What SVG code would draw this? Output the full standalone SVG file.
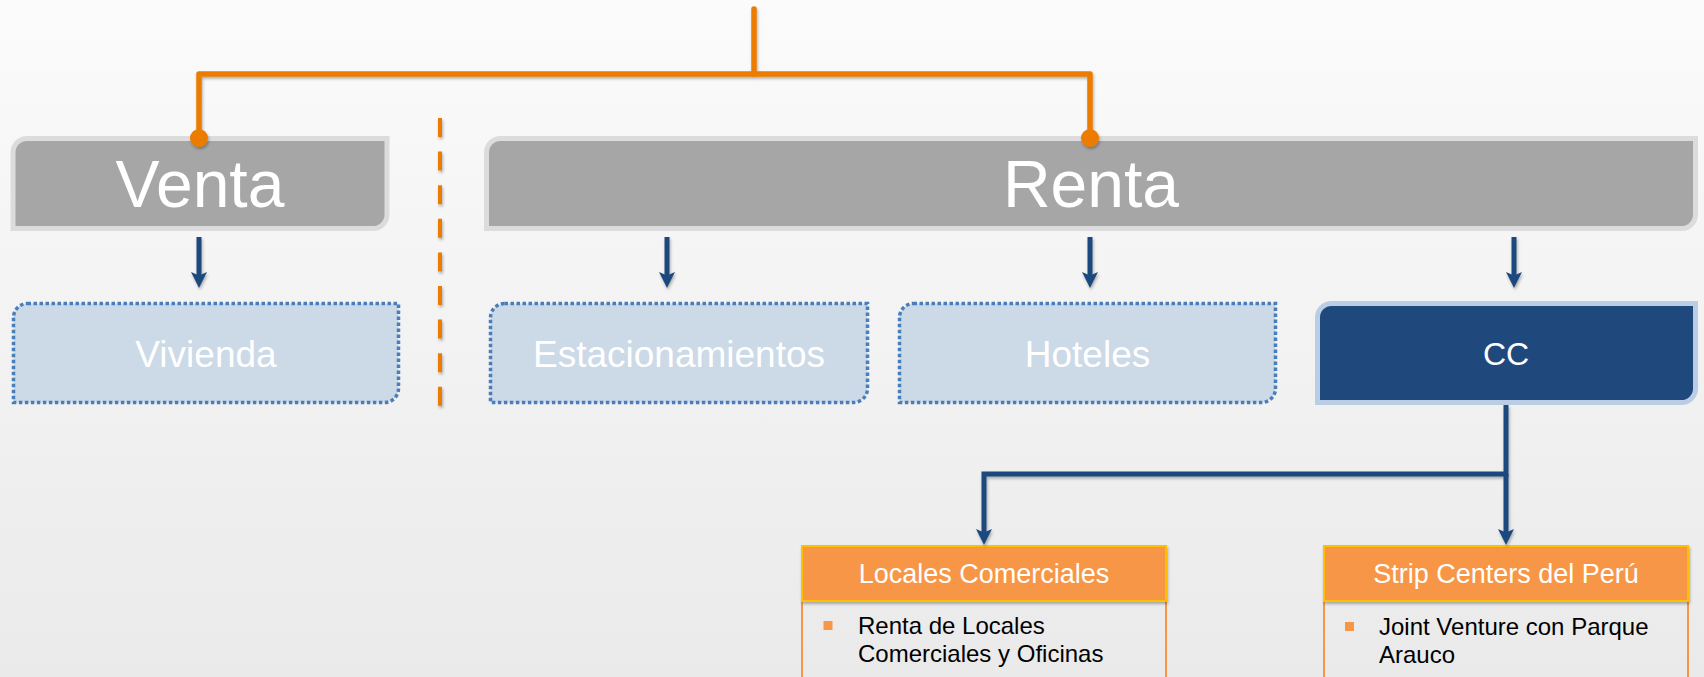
<svg xmlns="http://www.w3.org/2000/svg" width="1704" height="677" viewBox="0 0 1704 677">
  <defs>
    <linearGradient id="bg" x1="0" y1="0" x2="0" y2="1">
      <stop offset="0" stop-color="#fbfbfb"/>
      <stop offset="1" stop-color="#eaeaea"/>
    </linearGradient>
    <filter id="sh" x="-20%" y="-20%" width="140%" height="140%">
      <feDropShadow dx="1" dy="2" stdDeviation="1.5" flood-color="#000" flood-opacity="0.3"/>
    </filter>
    <marker id="arr" viewBox="0 0 16 16" refX="10" refY="8" markerWidth="16" markerHeight="16" markerUnits="userSpaceOnUse" orient="auto">
      <path d="M0,0 L16,8 L0,16 L3.5,8 Z" fill="#1f497d"/>
    </marker>
    <style>
      .big { fill:#a6a6a6; stroke:#dcdcdc; stroke-width:5; }
      .bigt { font-family:"Liberation Sans", Arial, sans-serif; font-size:66px; fill:#fff; text-anchor:middle; }
      .dot { fill:#ccd9e7; stroke:#4a7ebb; stroke-width:3.5; stroke-dasharray:3.5 2.5; }
      .mid { font-family:"Liberation Sans", Arial, sans-serif; font-size:37px; fill:#fff; text-anchor:middle; }
      .cc { fill:#1f497d; stroke:#b9cde5; stroke-width:5; }
      .ccT { font-family:"Liberation Sans", Arial, sans-serif; font-size:32px; fill:#fff; text-anchor:middle; }
      .hdr { fill:#f79646; stroke:#ffc000; stroke-width:2; }
      .hdrT { font-family:"Liberation Sans", Arial, sans-serif; font-size:27px; fill:#fff; text-anchor:middle; }
      .body { fill:none; stroke:#f79646; stroke-width:2; }
      .bul { fill:#f79646; }
      .bodyT { font-family:"Liberation Sans", Arial, sans-serif; font-size:24px; fill:#000; }
      .org { fill:none; stroke:#eb7c05; stroke-width:5.5; stroke-linejoin:round; stroke-linecap:round; }
      .blu { fill:none; stroke:#1f497d; stroke-width:5; stroke-linejoin:miter; }
    </style>
  </defs>
  <rect x="0" y="0" width="1704" height="677" fill="url(#bg)"/>

  <g id="venta">
    <path class="big" d="M27,138.5 H387 V214.5 A14,14 0 0 1 373,228.5 H13 V152.5 A14,14 0 0 1 27,138.5 Z"/>
    <text class="bigt" x="200" y="207">Venta</text>
  </g>
  <g id="renta">
    <path class="big" d="M500.5,138.5 H1695.5 V214.5 A14,14 0 0 1 1681.5,228.5 H486.5 V152.5 A14,14 0 0 1 500.5,138.5 Z"/>
    <text class="bigt" x="1091" y="207">Renta</text>
  </g>

  <g id="vivienda">
    <path class="dot" d="M27.5,303.5 H398.5 V388.5 A14,14 0 0 1 384.5,402.5 H13.5 V317.5 A14,14 0 0 1 27.5,303.5 Z"/>
    <text class="mid" x="206" y="367">Vivienda</text>
  </g>
  <g id="estacionamientos">
    <path class="dot" d="M504.5,303.5 H867.5 V388.5 A14,14 0 0 1 853.5,402.5 H490.5 V317.5 A14,14 0 0 1 504.5,303.5 Z"/>
    <text class="mid" x="679" y="367">Estacionamientos</text>
  </g>
  <g id="hoteles">
    <path class="dot" d="M913.5,303.5 H1275.5 V388.5 A14,14 0 0 1 1261.5,402.5 H899.5 V317.5 A14,14 0 0 1 913.5,303.5 Z"/>
    <text class="mid" x="1087.5" y="367">Hoteles</text>
  </g>
  <g id="cc">
    <path class="cc" d="M1331.5,303.5 H1695.5 V388.5 A14,14 0 0 1 1681.5,402.5 H1317.5 V317.5 A14,14 0 0 1 1331.5,303.5 Z"/>
    <text class="ccT" x="1506" y="365">CC</text>
  </g>

  <g id="locales">
    <rect class="body" x="802" y="601" width="364" height="100"/>
    <rect class="hdr" x="802" y="546" width="364" height="55" filter="url(#sh)"/>
    <text class="hdrT" x="984" y="583">Locales Comerciales</text>
    <rect class="bul" x="823.5" y="621" width="9" height="9"/>
    <text class="bodyT" x="858" y="634">Renta de Locales</text>
    <text class="bodyT" x="858" y="662">Comerciales y Oficinas</text>
  </g>
  <g id="strip">
    <rect class="body" x="1324" y="601" width="364" height="100"/>
    <rect class="hdr" x="1324" y="546" width="364" height="55" filter="url(#sh)"/>
    <text class="hdrT" x="1506" y="583">Strip Centers del Perú</text>
    <rect class="bul" x="1345" y="622" width="9" height="9"/>
    <text class="bodyT" x="1379" y="635">Joint Venture con Parque</text>
    <text class="bodyT" x="1379" y="663">Arauco</text>
  </g>

  <g id="connectors" filter="url(#sh)">
    <path class="org" d="M754,9 V74"/>
    <path class="org" d="M199,138 V74 H1090 V138"/>
    <circle cx="199" cy="138" r="9" fill="#eb7c05"/>
    <circle cx="1090" cy="138" r="9" fill="#eb7c05"/>
    <line x1="440" y1="118" x2="440" y2="406" stroke="#eb7c05" stroke-width="4" stroke-dasharray="19 14.6"/>
    <path class="blu" d="M199,237 V282" marker-end="url(#arr)"/>
    <path class="blu" d="M667,237 V282" marker-end="url(#arr)"/>
    <path class="blu" d="M1090,237 V282" marker-end="url(#arr)"/>
    <path class="blu" d="M1514,237 V282" marker-end="url(#arr)"/>
    <path class="blu" d="M1506,405 V474 H984 V539" marker-end="url(#arr)"/>
    <path class="blu" d="M1506,474 V539" marker-end="url(#arr)"/>
  </g>
</svg>
